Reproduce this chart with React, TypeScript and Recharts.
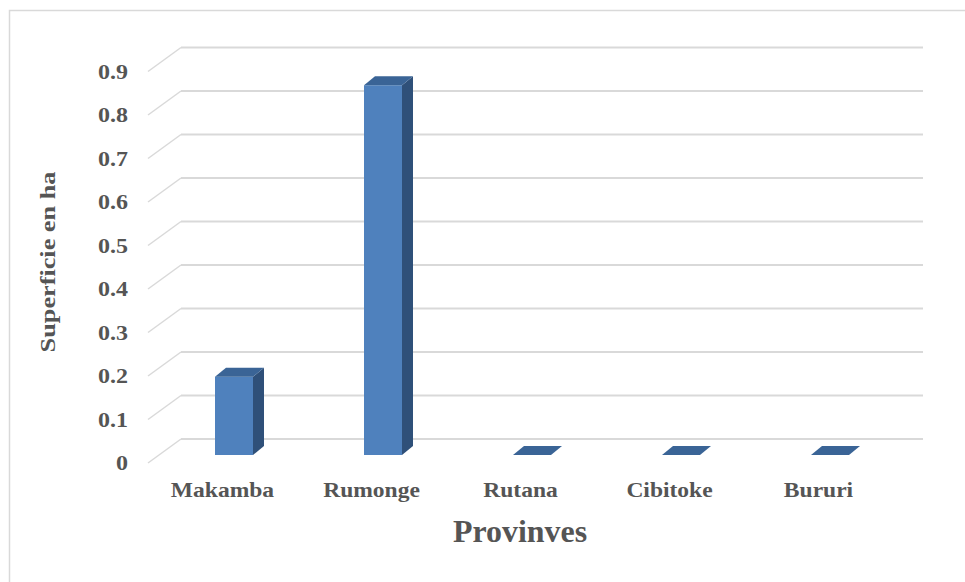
import { Bar, BarChart, CartesianGrid, XAxis, YAxis } from 'recharts';

const provinces = ['Makamba', 'Rumonge', 'Rutana', 'Cibitoke', 'Bururi'];
const superficie = [0.18, 0.85, 0, 0, 0];
const yTicks = [0, 0.1, 0.2, 0.3, 0.4, 0.5, 0.6, 0.7, 0.8, 0.9];

const data = provinces.map((name, i) => ({ name, value: superficie[i] }));

// depth of the 3D box, in pixels
const DEPTH_X = 11;
const DEPTH_Y = 9;
// floor planes relative to the bar plane
const BACK_OFFSET = -16;
const FRONT_OFFSET = 8;
const FLOOR_LEFT = 148;
const WALL_LEFT = 181;
const WALL_RIGHT = 923;

const TEXT = '#555555';
const GRID = '#d9d9d9';
const FONT = '"Liberation Serif", "Times New Roman", serif';

const Bar3D = (props: any) => {
	const { x, y, width, height } = props;
	const w = width;
	const h = Math.max(height, 0);
	const top = `${x},${y} ${x + DEPTH_X},${y - DEPTH_Y} ${x + w + DEPTH_X},${y - DEPTH_Y} ${x + w},${y}`;
	const side = `${x + w},${y} ${x + w + DEPTH_X},${y - DEPTH_Y} ${x + w + DEPTH_X},${y + h - DEPTH_Y} ${x + w},${y + h}`;
	return (
		<g>
			{h > 0 && <polygon points={side} fill="#2f5079" />}
			{h > 0 && <rect x={x} y={y} width={w} height={h} fill="#4f81bd" />}
			<polygon points={top} fill="#3a6496" />
		</g>
	);
};

const GridLine3D = (props: any) => {
	const { y1, key } = props;
	return (
		<g key={key}>
			<line x1={WALL_LEFT} y1={y1 + BACK_OFFSET} x2={WALL_RIGHT} y2={y1 + BACK_OFFSET} stroke={GRID} strokeWidth={2} />
			<line x1={FLOOR_LEFT} y1={y1 + FRONT_OFFSET} x2={WALL_LEFT} y2={y1 + BACK_OFFSET} stroke={GRID} strokeWidth={1.5} />
		</g>
	);
};

const YTick = (props: any) => {
	const { y, payload } = props;
	return (
		<g transform={`translate(128,${y + FRONT_OFFSET + 7}) scale(1.2,1)`}>
			<text x={0} y={0} textAnchor="end" fill={TEXT} fontFamily={FONT} fontWeight="bold" fontSize={20}>
				{payload.value}
			</text>
		</g>
	);
};

const XTick = (props: any) => {
	const { x, payload } = props;
	return (
		<g transform={`translate(${x - 11},497) scale(1.07,1)`}>
			<text x={0} y={0} textAnchor="middle" fill={TEXT} fontFamily={FONT} fontWeight="bold" fontSize={22}>
				{payload.value}
			</text>
		</g>
	);
};

export default function App() {
	return (
		<div style={{ position: 'absolute', left: 0, top: 0, background: '#fff' }}>
			<BarChart
				width={965}
				height={582}
				data={data}
				margin={{ top: 63.5, right: 61, bottom: 97, left: 129 }}
			>
				<rect x={9.5} y={10.5} width={1000} height={1000} fill="none" stroke={GRID} strokeWidth={1.5} />
				<CartesianGrid horizontal={GridLine3D} vertical={false} />
				<XAxis dataKey="name" height={30} axisLine={false} tickLine={false} tick={XTick} interval={0} />
				<YAxis
					width={30}
					domain={[0, 0.9]}
					ticks={yTicks}
					axisLine={false}
					tickLine={false}
					tick={YTick}
					interval={0}
				/>
				<Bar dataKey="value" barSize={38} shape={Bar3D} isAnimationActive={false} />
				<g transform="translate(520,542) scale(1.03,1)">
					<text textAnchor="middle" fill={TEXT} fontFamily={FONT} fontWeight="bold" fontSize={31}>
						Provinves
					</text>
				</g>
				<g transform="translate(55,262) rotate(-90) scale(1.25,1)">
					<text textAnchor="middle" fill={TEXT} fontFamily={FONT} fontWeight="bold" fontSize={21}>
						Superficie en ha
					</text>
				</g>
			</BarChart>
		</div>
	);
}
